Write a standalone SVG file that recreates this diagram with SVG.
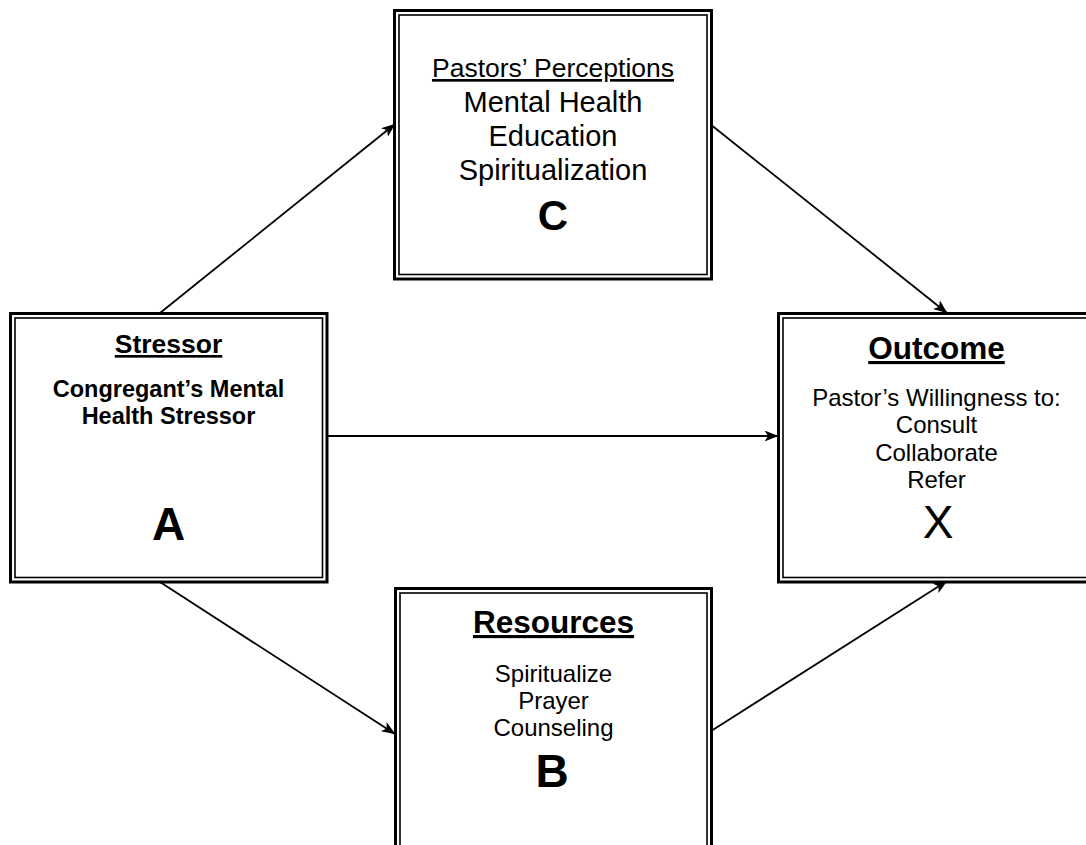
<svg xmlns="http://www.w3.org/2000/svg" width="1086" height="845" viewBox="0 0 1086 845">
<style>
.outer{fill:#fff;stroke:#000;stroke-width:3}
.inner{fill:none;stroke:#000;stroke-width:1.6}
.t{font-family:"Liberation Sans",Arial,sans-serif;fill:#000;text-anchor:middle}
.b{font-weight:bold}
.u{text-decoration:underline}
.conn{stroke:#000;stroke-width:1.8;fill:none}
</style>
<defs>
<marker id="arr" viewBox="0 0 14 11" refX="13.5" refY="5.5" markerWidth="14" markerHeight="11" markerUnits="userSpaceOnUse" orient="auto">
<path d="M0,0 L14,5.5 L0,11 L3.5,5.5 z" fill="#000"/>
</marker>
</defs>
<rect width="1086" height="845" fill="#fff"/>
<g id="connectors">
<line class="conn" x1="160" y1="313" x2="395" y2="124" marker-end="url(#arr)"/>
<line class="conn" x1="710" y1="124" x2="947" y2="313" marker-end="url(#arr)"/>
<line class="conn" x1="327" y1="436" x2="778" y2="436" marker-end="url(#arr)"/>
<line class="conn" x1="160" y1="582" x2="395" y2="734" marker-end="url(#arr)"/>
<line class="conn" x1="708" y1="733" x2="947" y2="581" marker-end="url(#arr)"/>
</g>
<g id="nodeA">
<rect class="outer" x="10.5" y="313.5" width="316.5" height="268.5"/>
<rect class="inner" x="15" y="318" width="307.5" height="259.5"/>
<text class="t b u" x="168.5" y="353" font-size="26.5">Stressor</text>
<text class="t b" x="168.5" y="397" font-size="23.5">Congregant’s Mental</text>
<text class="t b" x="168.5" y="424" font-size="23.5">Health Stressor</text>
<text class="t b" x="168.5" y="540" font-size="46">A</text>
</g>
<g id="nodeC">
<rect class="outer" x="394.5" y="10.5" width="317" height="268.5"/>
<rect class="inner" x="399" y="15" width="308" height="259.5"/>
<text class="t u" x="553" y="77" font-size="26.5">Pastors’ Perceptions</text>
<text class="t" x="553" y="112" font-size="29">Mental Health</text>
<text class="t" x="553" y="146" font-size="29">Education</text>
<text class="t" x="553" y="180" font-size="29">Spiritualization</text>
<text class="t b" x="553" y="230" font-size="42">C</text>
</g>
<g id="nodeX">
<rect class="outer" x="778.5" y="313.5" width="317" height="268.5"/>
<rect class="inner" x="783" y="318" width="308" height="259.5"/>
<text class="t b u" x="936.5" y="359" font-size="31.5">Outcome</text>
<text class="t" x="936.5" y="406" font-size="24">Pastor’s Willingness to:</text>
<text class="t" x="936.5" y="433" font-size="24">Consult</text>
<text class="t" x="936.5" y="461" font-size="24">Collaborate</text>
<text class="t" x="936.5" y="488" font-size="24">Refer</text>
<text class="t" x="938" y="538" font-size="46">X</text>
</g>
<g id="nodeB">
<rect class="outer" x="395.5" y="588.5" width="316" height="268.5"/>
<rect class="inner" x="400" y="593" width="307" height="259.5"/>
<text class="t b u" x="553.5" y="633" font-size="31.5">Resources</text>
<text class="t" x="553.5" y="682" font-size="24">Spiritualize</text>
<text class="t" x="553.5" y="709" font-size="24">Prayer</text>
<text class="t" x="553.5" y="736" font-size="24">Counseling</text>
<text class="t b" x="552" y="787" font-size="46">B</text>
</g>
</svg>
